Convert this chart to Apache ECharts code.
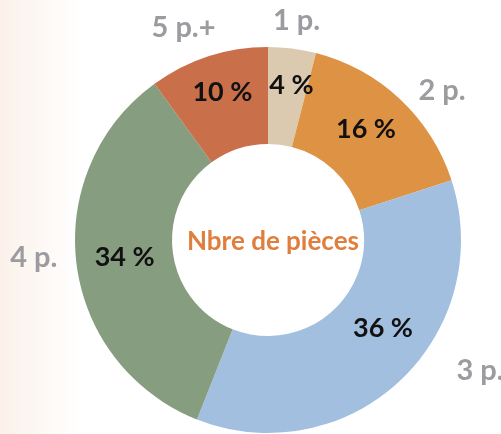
<!DOCTYPE html>
<html>
<head>
<meta charset="utf-8">
<script src="https://cdn.jsdelivr.net/npm/echarts@6/dist/echarts.min.js"></script>
<style>
  html, body { margin: 0; padding: 0; background: #fff; }
  #main { width: 501px; height: 434px; }
</style>
</head>
<body>
<div id="main"></div>
<script>
// pieces par logement, sens horaire depuis le haut
var categories = ['1 p.', '2 p.', '3 p.', '4 p.', '5 p.+'];
var shares = [4, 16, 36, 34, 10];
var colors = ['#dccab0', '#de9243', '#a2bfdf', '#869d80', '#c96f4a'];
var centerTitle = 'Nbre de pièces';

// petits decalages pour coller au placement du modele
var innerOffsets = [[5, -8], [-3, -3], [14, -19], [3, -1], [0, -7]];
var outerOffsets = [[0, 7], [18, 17], [56, -36], [-8, -11], [-14, 4]];

var myChart = echarts.init(document.getElementById('main'));

var option = {
  backgroundColor: new echarts.graphic.LinearGradient(0, 0, 1, 0, [
    { offset: 0, color: '#fbf1ea' },
    { offset: 0.16, color: '#ffffff' }
  ]),
  animation: false,
  title: {
    text: centerTitle,
    left: 268,
    top: 237,
    textAlign: 'center',
    textVerticalAlign: 'middle',
    textStyle: {
      color: '#e07f3d',
      fontFamily: 'Lato',
      fontWeight: 'bold',
      fontSize: 26
    }
  },
  series: [
    {
      type: 'pie',
      center: [268, 240],
      radius: [96, 193],
      startAngle: 90,
      clockwise: true,
      silent: true,
      label: {
        position: 'inside',
        formatter: '{c} %',
        color: '#111',
        fontFamily: 'Lato',
        fontWeight: 'bold',
        fontSize: 27
      },
      labelLine: { show: false },
      data: categories.map(function (c, i) {
        return {
          name: c,
          value: shares[i],
          itemStyle: { color: colors[i] },
          label: { offset: innerOffsets[i] }
        };
      })
    },
    {
      // anneau invisible qui porte les noms a l'exterieur
      type: 'pie',
      center: [268, 240],
      radius: [200, 250],
      startAngle: 90,
      clockwise: true,
      silent: true,
      itemStyle: { color: 'rgba(0,0,0,0)' },
      label: {
        position: 'inside',
        formatter: '{b}',
        color: '#9b9ba0',
        fontFamily: 'Lato',
        fontWeight: 'bold',
        fontSize: 29
      },
      labelLine: { show: false },
      data: categories.map(function (c, i) {
        return {
          name: c,
          value: shares[i],
          label: { offset: outerOffsets[i] }
        };
      })
    }
  ]
};

myChart.setOption(option);
</script>
</body>
</html>
